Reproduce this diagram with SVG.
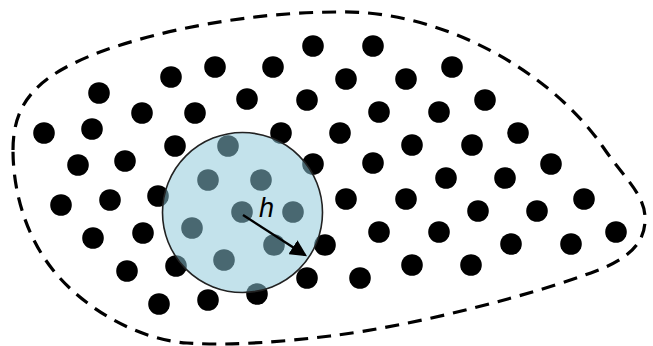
<svg xmlns="http://www.w3.org/2000/svg" width="653" height="346" viewBox="0 0 653 346">
<style>
.p{fill:#000}
.bd{fill:none;stroke:#000;stroke-width:3.2;stroke-dasharray:14 9}
.k{fill:rgb(140,200,216);fill-opacity:0.52;stroke:#222;stroke-width:1.6}
.ar{stroke:#000;stroke-width:2.4;fill:none}
.lbl{font-family:"Liberation Sans",Arial,sans-serif;font-style:italic;font-size:27px;fill:#000}
</style>
<defs>
<marker id="ah" markerWidth="7" markerHeight="7" refX="6" refY="3.5" orient="auto" markerUnits="strokeWidth">
<path d="M0,0 L7,3.5 L0,7 z" fill="#000"/>
</marker>
</defs>
<rect width="653" height="346" fill="#fff"/>
<g id="boundary">
<path class="bd" d="M13,150 C13,100 40,75 100,52 C160,30 250,12 340,12 C440,10 550,70 603,147 C624,178 646,195 645,220 C645,245 625,260 596,271 C538,293 420,325 330,336 C280,342 230,346 187,343 C140,340 85,310 53,270 C25,235 13,190 13,150 Z"/>
</g>
<g id="particles">
<circle class="p" cx="313" cy="46" r="10.8"/>
<circle class="p" cx="373" cy="46" r="10.8"/>
<circle class="p" cx="171" cy="77" r="10.8"/>
<circle class="p" cx="215" cy="67" r="10.8"/>
<circle class="p" cx="273" cy="67" r="10.8"/>
<circle class="p" cx="346" cy="79" r="10.8"/>
<circle class="p" cx="406" cy="79" r="10.8"/>
<circle class="p" cx="452" cy="67" r="10.8"/>
<circle class="p" cx="99" cy="93" r="10.8"/>
<circle class="p" cx="142" cy="113" r="10.8"/>
<circle class="p" cx="195" cy="113" r="10.8"/>
<circle class="p" cx="247" cy="99" r="10.8"/>
<circle class="p" cx="307" cy="100" r="10.8"/>
<circle class="p" cx="379" cy="112" r="10.8"/>
<circle class="p" cx="439" cy="112" r="10.8"/>
<circle class="p" cx="485" cy="100" r="10.8"/>
<circle class="p" cx="44" cy="133" r="10.8"/>
<circle class="p" cx="92" cy="129" r="10.8"/>
<circle class="p" cx="281" cy="133" r="10.8"/>
<circle class="p" cx="340" cy="133" r="10.8"/>
<circle class="p" cx="412" cy="145" r="10.8"/>
<circle class="p" cx="472" cy="145" r="10.8"/>
<circle class="p" cx="518" cy="133" r="10.8"/>
<circle class="p" cx="175" cy="146" r="10.8"/>
<circle class="p" cx="228" cy="146" r="10.8"/>
<circle class="p" cx="78" cy="165" r="10.8"/>
<circle class="p" cx="125" cy="161" r="10.8"/>
<circle class="p" cx="313" cy="164" r="10.8"/>
<circle class="p" cx="373" cy="163" r="10.8"/>
<circle class="p" cx="446" cy="178" r="10.8"/>
<circle class="p" cx="505" cy="178" r="10.8"/>
<circle class="p" cx="551" cy="164" r="10.8"/>
<circle class="p" cx="61" cy="205" r="10.8"/>
<circle class="p" cx="110" cy="200" r="10.8"/>
<circle class="p" cx="158" cy="196" r="10.8"/>
<circle class="p" cx="208" cy="180" r="10.8"/>
<circle class="p" cx="261" cy="180" r="10.8"/>
<circle class="p" cx="346" cy="199" r="10.8"/>
<circle class="p" cx="406" cy="199" r="10.8"/>
<circle class="p" cx="478" cy="211" r="10.8"/>
<circle class="p" cx="537" cy="211" r="10.8"/>
<circle class="p" cx="584" cy="199" r="10.8"/>
<circle class="p" cx="242" cy="212" r="10.8"/>
<circle class="p" cx="293" cy="212" r="10.8"/>
<circle class="p" cx="192" cy="228" r="10.8"/>
<circle class="p" cx="93" cy="238" r="10.8"/>
<circle class="p" cx="143" cy="233" r="10.8"/>
<circle class="p" cx="274" cy="245" r="10.8"/>
<circle class="p" cx="325" cy="245" r="10.8"/>
<circle class="p" cx="379" cy="232" r="10.8"/>
<circle class="p" cx="439" cy="232" r="10.8"/>
<circle class="p" cx="511" cy="244" r="10.8"/>
<circle class="p" cx="571" cy="244" r="10.8"/>
<circle class="p" cx="616" cy="232" r="10.8"/>
<circle class="p" cx="224" cy="260" r="10.8"/>
<circle class="p" cx="127" cy="271" r="10.8"/>
<circle class="p" cx="176" cy="266" r="10.8"/>
<circle class="p" cx="307" cy="278" r="10.8"/>
<circle class="p" cx="360" cy="278" r="10.8"/>
<circle class="p" cx="412" cy="265" r="10.8"/>
<circle class="p" cx="471" cy="265" r="10.8"/>
<circle class="p" cx="257" cy="294" r="10.8"/>
<circle class="p" cx="208" cy="300" r="10.8"/>
<circle class="p" cx="159" cy="304" r="10.8"/>
</g>
<g id="kernel">
<circle class="k" cx="242.5" cy="212.5" r="80"/>
</g>
<g id="connectors">
<line class="ar" x1="243" y1="215" x2="305" y2="255" marker-end="url(#ah)"/>
</g>
<g id="label-h">
<text class="lbl" x="266.5" y="217" text-anchor="middle">h</text>
</g>
</svg>
